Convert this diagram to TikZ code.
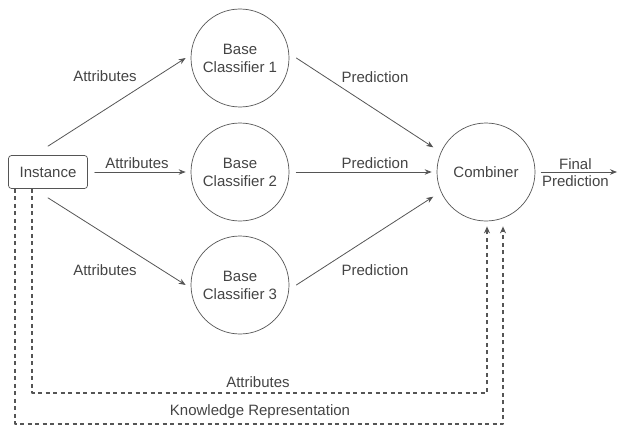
\documentclass[tikz,border=0pt]{standalone}
\usepackage{fontspec}
\setmainfont{Liberation Sans}
\usepackage{xcolor}
\usetikzlibrary{arrows.meta}

\definecolor{lncol}{HTML}{555555}
\definecolor{txcol}{HTML}{444444}

\begin{document}
\begin{tikzpicture}[x=1pt, y=-1pt, line cap=round, line join=round,
    every node/.style={text=txcol, font=\fontsize{15}{18}\selectfont},
    clf/.style={circle, draw=lncol, line width=0.7pt, minimum size=98pt, inner sep=0pt, align=center},
    instbox/.style={draw=lncol, line width=0.7pt, rounded corners=3pt, minimum width=79pt, minimum height=33pt},
    arr/.style={draw=lncol, line width=0.8pt, -{Stealth[length=7pt, width=5.5pt]}},
    dasharr/.style={draw=lncol, line width=1.3pt, dash pattern=on 4pt off 3.5pt, line cap=butt, -{Stealth[length=7pt, width=6pt]}}]
  \useasboundingbox (0,0) rectangle (618,428);
  % nodes
  \node[instbox] (inst) at (48,172) {Instance};
  \foreach \y [count=\i] in {58,172,285}
    \node[clf] (bc\i) at (240,\y) {Base\\Classifier \i};
  \node[clf] (comb) at (486,172) {Combiner};
  \coordinate (out) at (617,172);
  % attributes to the base classifiers
  \draw[arr] ([yshift=9pt]inst.north) -- ([xshift=-5pt]bc1.west);
  \draw[arr] ([xshift=7pt]inst.east) -- ([xshift=-5pt]bc2.west);
  \draw[arr] ([yshift=-9pt]inst.south) -- ([xshift=-5pt]bc3.west);
  \node at (105,76) {Attributes};
  \node at (137,163) {Attributes};
  \node at (105,270) {Attributes};
  % predictions to the combiner
  \draw[arr] ([xshift=7pt]bc1.east) -- ([xshift=-10pt]comb.150);
  \draw[arr] ([xshift=7pt]bc2.east) -- ([xshift=-5pt]comb.west);
  \draw[arr] ([xshift=7pt]bc3.east) -- ([xshift=-10pt]comb.210);
  \foreach \y in {77,163,270}
    \node at (375,\y) {Prediction};
  \draw[arr] ([xshift=6pt]comb.east) -- (out)
    node[pos=0.45, above=-1pt] {Final} node[pos=0.45, below=0pt] {Prediction};
  % dashed feedback
  \draw[dasharr] ([xshift=-16pt]inst.south) -- ++(0,204) -| ([xshift=1pt, yshift=-5pt]comb.south);
  \draw[dasharr] ([xshift=-33pt]inst.south) -- ++(0,235) -| ([xshift=17pt, yshift=-5pt]comb.south);
  \node at (258,382) {Attributes};
  \node at (260,412) {Knowledge Representation};
\end{tikzpicture}
\end{document}
